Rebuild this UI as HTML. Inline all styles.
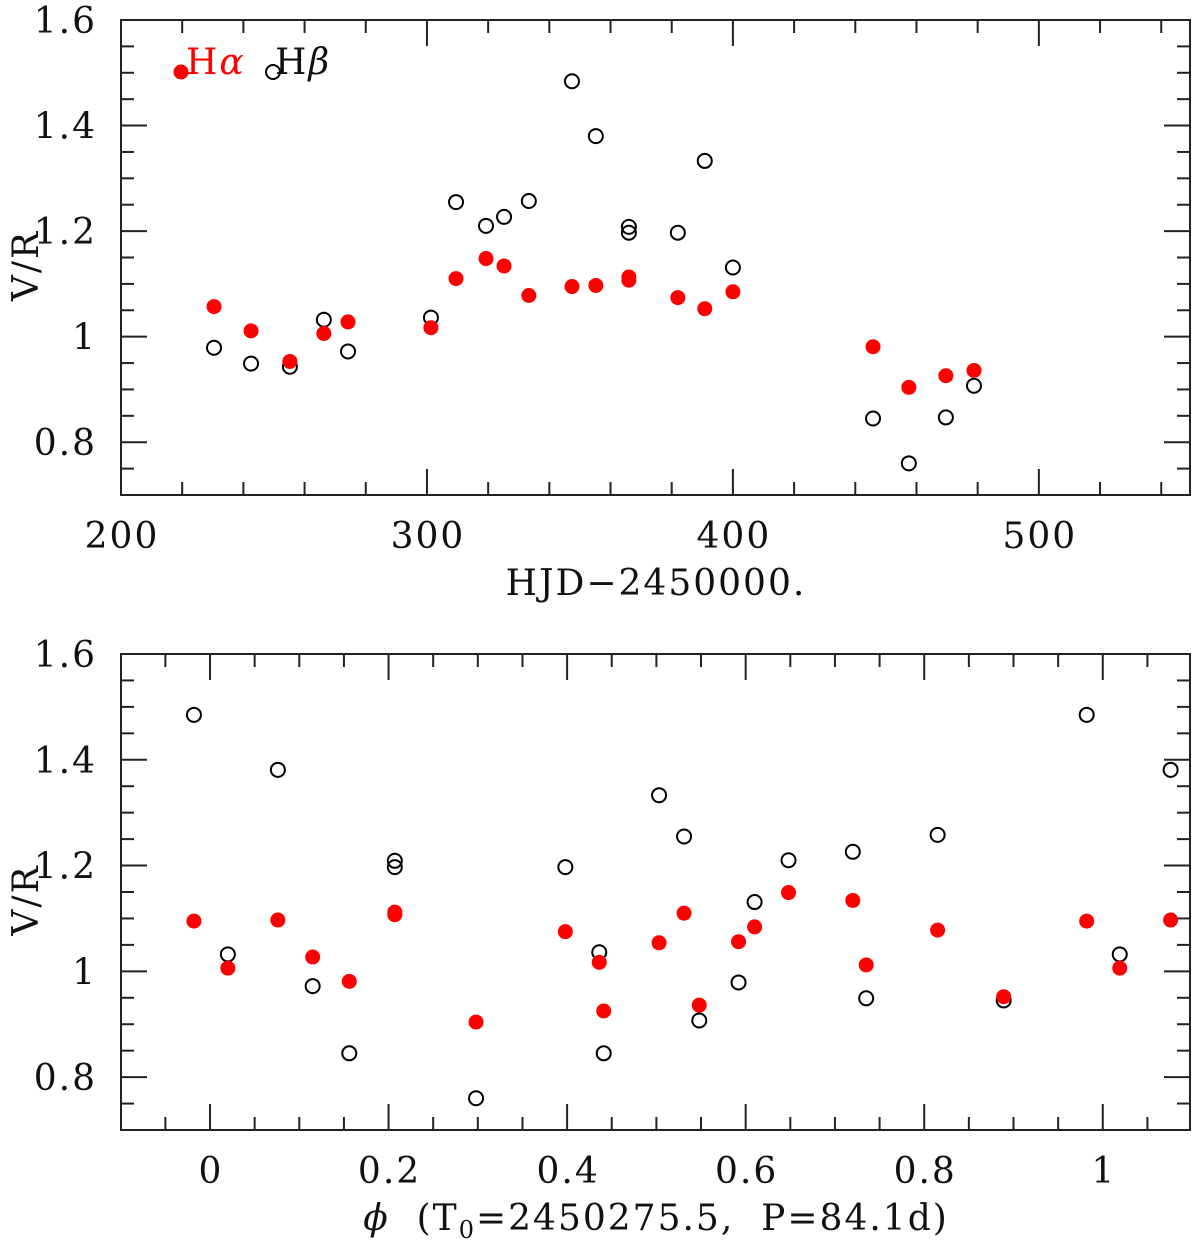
<!DOCTYPE html>
<html><head><meta charset="utf-8"><style>
html,body{margin:0;padding:0;background:#fff}
svg{display:block}
text{font-family:"DejaVu Serif","Liberation Serif",serif;fill:#111;white-space:pre;letter-spacing:2px}
</style></head><body>
<svg id="chart" width="1200" height="1250" viewBox="0 0 1200 1250" xmlns="http://www.w3.org/2000/svg"></svg>
<script>
// Top panel data (HJD-2450000, V/R)
const topHaX=[230.4,242.5,255.2,266.3,274.2,301.3,309.5,319.3,325.2,333.3,347.4,355.2,366.0,366.0,382.0,390.8,400.0,445.8,457.5,469.6,478.8];
const topHaY=[1.057,1.011,0.953,1.006,1.028,1.017,1.110,1.148,1.134,1.078,1.095,1.097,1.107,1.113,1.074,1.053,1.085,0.981,0.904,0.926,0.936];
const topHbX=[230.4,242.5,255.2,266.3,274.2,301.3,309.5,319.3,325.2,333.3,347.4,355.2,366.0,366.0,382.0,390.8,400.0,445.8,457.5,469.6,478.8];
const topHbY=[0.979,0.949,0.943,1.032,0.972,1.036,1.255,1.210,1.227,1.257,1.484,1.380,1.208,1.197,1.197,1.333,1.131,0.845,0.760,0.847,0.907];
// Bottom panel data (phase, V/R)
const botHaX=[-0.018,0.020,0.076,0.115,0.156,0.207,0.207,0.298,0.398,0.436,0.441,0.503,0.531,0.548,0.592,0.610,0.648,0.720,0.735,0.815,0.889,0.982,1.019,1.076];
const botHaY=[1.095,1.006,1.097,1.027,0.981,1.112,1.107,0.904,1.075,1.017,0.925,1.054,1.110,0.936,1.056,1.084,1.149,1.134,1.012,1.078,0.952,1.095,1.006,1.097];
const botHbX=[-0.018,0.020,0.076,0.115,0.156,0.207,0.207,0.298,0.398,0.436,0.441,0.503,0.531,0.548,0.592,0.610,0.648,0.720,0.735,0.815,0.889,0.982,1.019,1.076];
const botHbY=[1.485,1.032,1.381,0.972,0.845,1.209,1.197,0.760,1.197,1.036,0.845,1.333,1.255,0.907,0.979,1.131,1.210,1.226,0.949,1.258,0.945,1.485,1.032,1.381];
const topXTicks=["200","300","400","500"];
const botXTicks=["0","0.2","0.4","0.6","0.8","1"];
const yTicks=["0.8","1","1.2","1.4","1.6"];

const NS="http://www.w3.org/2000/svg";
const svg=document.getElementById('chart');
function mk(tag,attrs,parent){const e=document.createElementNS(NS,tag);for(const k in attrs)e.setAttribute(k,attrs[k]);(parent||svg).appendChild(e);return e;}

function panel(cfg){
  const {L,R,T,B,xmin,xmax,ymin,ymax}=cfg;
  const sx=v=>L+(v-xmin)/(xmax-xmin)*(R-L);
  const sy=v=>B-(v-ymin)/(ymax-ymin)*(B-T);
  const g=mk('g',{});
  
  
  const frame=mk('rect',{x:L,y:T,width:R-L,height:B-T,fill:'none',stroke:'#222','stroke-width':2},g);
  
  
  const eps=1e-9;
  for(let v=Math.ceil(xmin/cfg.xminor-eps)*cfg.xminor; v<=xmax+eps; v+=cfg.xminor){
    const x=sx(v); const isMaj=Math.abs(v/cfg.xmajor-Math.round(v/cfg.xmajor))<1e-6;
    const len=isMaj?26:13;
    const t1=mk('line',{x1:x,x2:x,y1:B,y2:B-len,stroke:'#222','stroke-width':2},g);
    
    
    const t2=mk('line',{x1:x,x2:x,y1:T,y2:T+len,stroke:'#222','stroke-width':2},g);
    
    
  }
  cfg.xlabels.forEach(s=>{
    const v=parseFloat(s);
    const t=mk('text',{x:sx(v)+1,y:B+53,'text-anchor':'middle','font-size':36},g);
    t.textContent=s;
    
    
  });
  for(let v=ymin; v<=ymax+eps; v+=0.05){
    const y=sy(v); const isMaj=Math.abs(v/0.2-Math.round(v/0.2))<1e-6;
    const len=isMaj?26:13;
    const t1=mk('line',{x1:L,x2:L+len,y1:y,y2:y,stroke:'#222','stroke-width':2},g);
    
    
    const t2=mk('line',{x1:R,x2:R-len,y1:y,y2:y,stroke:'#222','stroke-width':2},g);
    
    
  }
  yTicks.forEach(s=>{
    const v=parseFloat(s);
    const t=mk('text',{x:97,y:sy(v)+13,'text-anchor':'end','font-size':36},g);
    t.textContent=s;
    
    
  });
  const yl=mk('text',{x:0,y:0,'text-anchor':'middle','font-size':36,transform:`translate(38,${(T+B)/2+8}) rotate(-90)`},g);
  yl.textContent='V/R';
  
  
  cfg.hbX.forEach((xv,i)=>{
    const c=mk('circle',{cx:sx(xv),cy:sy(cfg.hbY[i]),r:7,fill:'none',stroke:'#000','stroke-width':2},g);
    
    
  });
  cfg.haX.forEach((xv,i)=>{
    const c=mk('circle',{cx:sx(xv),cy:sy(cfg.haY[i]),r:7.5,fill:'#f00',stroke:'none'},g);
    
    
  });
  return {sx,sy,g};
}

const p1=panel({name:'top-panel',L:121,R:1190,T:20,B:495,xmin:200,xmax:549.4,ymin:0.7,ymax:1.6,xminor:20,xmajor:100,xlabels:topXTicks,haX:topHaX,haY:topHaY,hbX:topHbX,hbY:topHbY});
const p2=panel({name:'bottom-panel',L:121,R:1190,T:654,B:1130,xmin:-0.0997,xmax:1.0977,ymin:0.7,ymax:1.6,xminor:0.05,xmajor:0.2,xlabels:botXTicks,haX:botHaX,haY:botHaY,hbX:botHbX,hbY:botHbY});

let t=mk('text',{x:656,y:595,'text-anchor':'middle','font-size':36});
t.textContent='HJD\u22122450000.';


t=mk('text',{x:656,y:1230,'text-anchor':'middle','font-size':36});
t.innerHTML='<tspan font-style="italic">\u03D5</tspan>  (T<tspan font-size="24" dy="8">0</tspan><tspan dy="-8">=2450275.5,  P=84.1d)</tspan>';



let c=mk('circle',{cx:181,cy:72,r:7.5,fill:'#f00'});


t=mk('text',{x:186,y:74,'font-size':36});
t.innerHTML='H<tspan font-style="italic">\u03B1</tspan>';
t.style.fill='#f00';


c=mk('circle',{cx:273,cy:72,r:7,fill:'none',stroke:'#000','stroke-width':2});


t=mk('text',{x:275,y:74,'font-size':36});
t.innerHTML='H<tspan font-style="italic">\u03B2</tspan>';


</script>
</body></html>
